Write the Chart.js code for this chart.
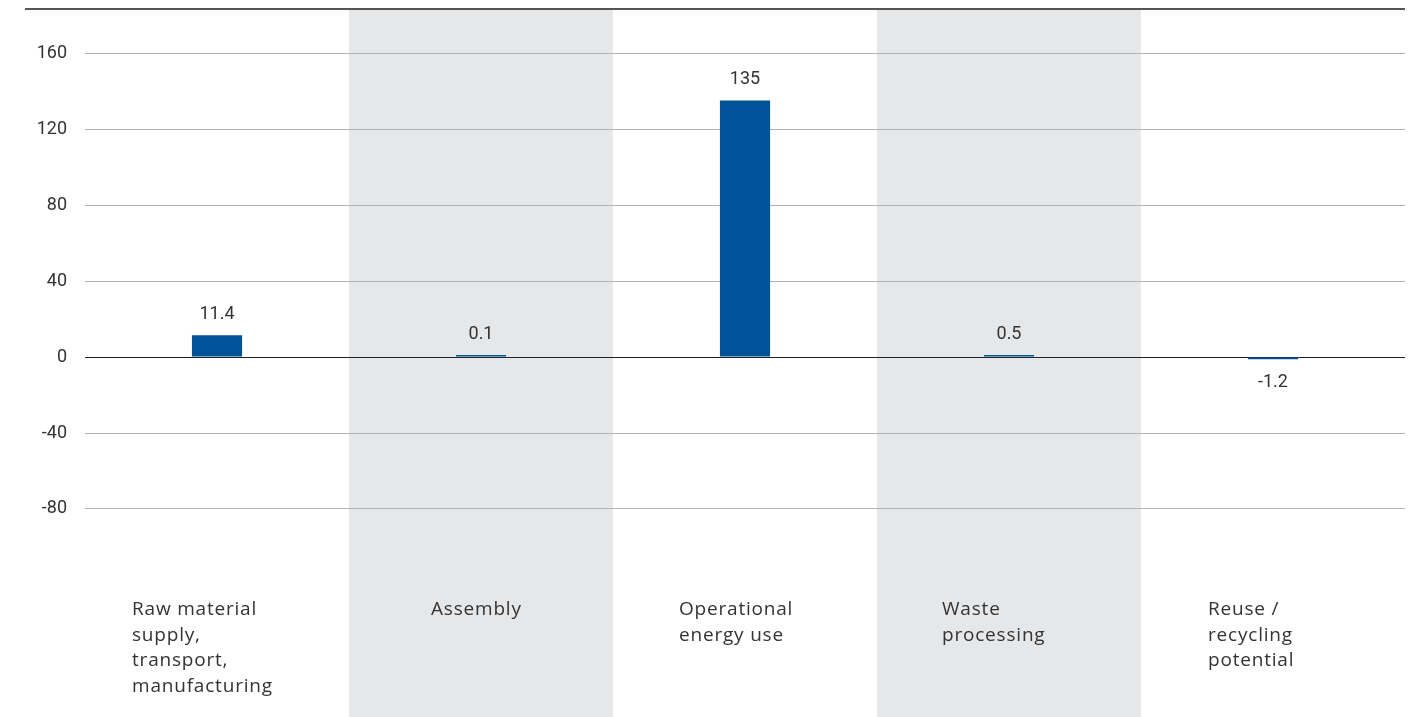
<!DOCTYPE html>
<html>
<head>
<meta charset="utf-8">
<script src="https://cdn.jsdelivr.net/npm/chart.js@4"></script>
<style>
html,body{margin:0;padding:0;background:#fff;}
#wrap{width:1424px;height:717px;position:relative;}
</style>
</head>
<body>
<div id="wrap"><canvas id="c" width="1424" height="717"></canvas></div>
<script>
const categories = [
  ["Raw material", "supply,", "transport,", "manufacturing"],
  ["Assembly"],
  ["Operational", "energy use"],
  ["Waste", "processing"],
  ["Reuse /", "recycling", "potential"]
];
const values = [11.4, 0.1, 135, 0.5, -1.2];
const valueLabels = ["11.4", "0.1", "135", "0.5", "-1.2"];
const yTicks = [-80, -40, 0, 40, 80, 120, 160];
const shadedCategories = [1, 3];

const labelOffsets = [85, 50, 66, 67, 65];

const bgPlugin = {
  id: 'bg',
  beforeDraw(chart) {
    const {ctx, chartArea} = chart;
    const xs = chart.scales.x;
    ctx.save();
    ctx.fillStyle = '#ffffff';
    ctx.fillRect(0, 0, chart.width, chart.height);
    const w = xs.width / categories.length;
    ctx.fillStyle = '#e6e7e9';
    shadedCategories.forEach(i => {
      const cx = xs.getPixelForValue(i);
      ctx.fillRect(cx - w / 2, chartArea.top, w, chartArea.bottom - chartArea.top);
    });
    ctx.restore();
  },
  afterDraw(chart) {
    const {ctx, chartArea} = chart;
    const xs = chart.scales.x;
    ctx.save();
    // top rule
    ctx.strokeStyle = '#555555';
    ctx.lineWidth = 2;
    ctx.beginPath();
    ctx.moveTo(25, chartArea.top);
    ctx.lineTo(chartArea.right, chartArea.top);
    ctx.stroke();
    // value labels
    const meta = chart.getDatasetMeta(0);
    ctx.fillStyle = '#333333';
    ctx.font = '18px Roboto';
    ctx.textAlign = 'center';
    ctx.textBaseline = 'middle';
    meta.data.forEach((el, i) => {
      const v = values[i];
      const y = v >= 0 ? el.y - 21 : el.y + 23;
      ctx.fillText(valueLabels[i], el.x, y);
    });
    // category labels
    ctx.textAlign = 'left';
    ctx.font = '19px "Open Sans"';
    try { ctx.letterSpacing = '0.8px'; } catch (e) {}
    categories.forEach((lines, i) => {
      const cx = xs.getPixelForValue(i);
      lines.forEach((t, j) => {
        ctx.fillText(t, cx - labelOffsets[i], 610 + j * 25.5);
      });
    });
    ctx.restore();
  }
};

new Chart(document.getElementById('c'), {
  type: 'bar',
  data: {
    labels: categories.map(c => c.join(' ')),
    datasets: [{
      data: values,
      backgroundColor: '#00529b',
      barPercentage: 0.19,
      categoryPercentage: 1,
      minBarLength: 2
    }]
  },
  options: {
    responsive: false,
    animation: false,
    events: [],
    layout: { padding: { top: 9, right: 19, bottom: 0, left: 0 } },
    plugins: { legend: { display: false }, tooltip: { enabled: false } },
    scales: {
      x: { display: false, offset: true },
      y: {
        min: -189.5,
        max: 183.2,
        afterBuildTicks(scale) { scale.ticks = yTicks.map(v => ({ value: v })); },
        afterFit(scale) { scale.width = 85; scale.paddingTop = 0; scale.paddingBottom = 0; },
        border: { display: false },
        grid: {
          drawTicks: false,
          color: ctx => ctx.tick && ctx.tick.value === 0 ? '#222222' : '#b3b3b3',
          lineWidth: 1
        },
        ticks: {
          padding: 18,
          color: '#333333',
          font: { family: 'Roboto', size: 18 },
          callback: v => String(v)
        }
      }
    }
  },
  plugins: [bgPlugin]
});
</script>
</body>
</html>
